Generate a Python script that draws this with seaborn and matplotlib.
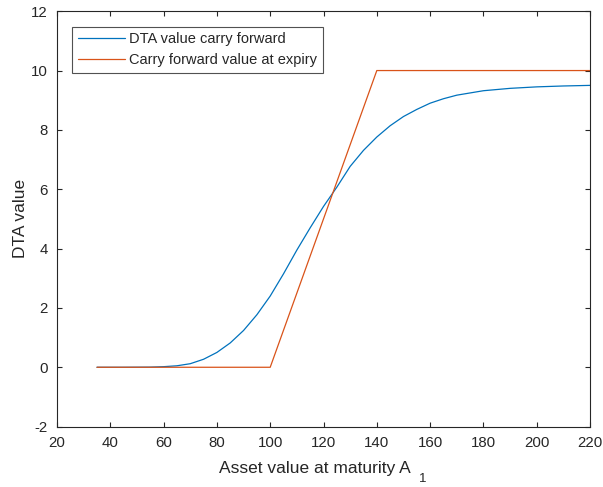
import numpy as np
import pandas as pd
import matplotlib
matplotlib.use("Agg")
import matplotlib.pyplot as plt
import seaborn as sns

# values
asset_blue = [35, 45, 55, 60, 65, 70, 75, 80, 85, 90, 95, 100, 105, 110, 115, 120,
              125, 130, 135, 140, 145, 150, 155, 160, 165, 170, 180, 190, 200, 210, 220]
dta_carry = [0, 0, 0.005, 0.02, 0.05, 0.12, 0.27, 0.5, 0.82, 1.24, 1.77, 2.40, 3.15, 3.95,
             4.70, 5.42, 6.07, 6.77, 7.31, 7.76, 8.14, 8.45, 8.69, 8.90, 9.05, 9.17,
             9.32, 9.40, 9.45, 9.48, 9.50]

asset_orange = [35, 100, 140, 220]
carry_expiry = [0, 0, 10, 10]

sns.set_style("white")
plt.rcParams["font.family"] = ["Liberation Sans", "DejaVu Sans"]
plt.rcParams["axes.unicode_minus"] = False

df_blue = pd.DataFrame({"x": asset_blue, "y": dta_carry})
df_orange = pd.DataFrame({"x": asset_orange, "y": carry_expiry})

fig = plt.figure(figsize=(6.03, 4.87), dpi=100)
ax = fig.add_axes([0.0945, 0.124, 0.884, 0.853])

sns.lineplot(data=df_blue, x="x", y="y", ax=ax, color="#0072BD", lw=0.9,
             label="DTA value carry forward", estimator=None, sort=False)
sns.lineplot(data=df_orange, x="x", y="y", ax=ax, color="#D95319", lw=0.9,
             label="Carry forward value at expiry", estimator=None, sort=False)

ax.set_xlim(20, 220)
ax.set_ylim(-2, 12)
ax.set_xticks(np.arange(20, 221, 20))
ax.set_yticks(np.arange(-2, 13, 2))

axc = "#262626"
for s in ax.spines.values():
    s.set_visible(True)
    s.set_color(axc)
    s.set_linewidth(0.8)
ax.tick_params(direction="in", length=3.6, width=0.8, color=axc, labelcolor=axc,
               labelsize=10.8, pad=6.5, top=True, right=True, bottom=True, left=True)

ax.set_xlabel("Asset value at maturity A", fontsize=12.5, color=axc, labelpad=8)
ax.xaxis.label.set_x(0.484)
ax.annotate("1", xy=(1, 0), xycoords=ax.xaxis.label, xytext=(5.5, -4.6),
            textcoords="offset points", ha="left", va="baseline",
            fontsize=9.5, color=axc)
ax.set_ylabel("DTA value", fontsize=12.5, color=axc, labelpad=2)

leg = ax.legend(loc="upper left", fontsize=10.5, frameon=True, fancybox=False,
                edgecolor=axc, borderaxespad=1.05, handlelength=3.2,
                handletextpad=0.3, labelspacing=0.45, borderpad=0.4)
leg.get_frame().set_linewidth(0.8)

fig.savefig("out.png", dpi=100)
